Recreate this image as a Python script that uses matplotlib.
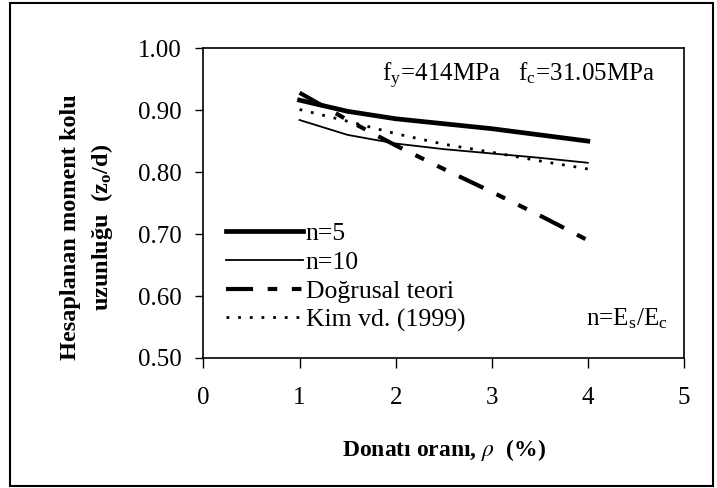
import matplotlib.pyplot as plt
from matplotlib.patches import Rectangle

plt.rcParams['font.family'] = ['Liberation Serif', 'DejaVu Serif']
plt.rcParams['mathtext.fontset'] = 'stix'

rho = [1.0, 1.5, 2.0, 2.5, 3.0, 3.5, 4.0]
n5 = [0.916, 0.898, 0.886, 0.878, 0.870, 0.860, 0.850]
n10 = [0.884, 0.860, 0.846, 0.837, 0.830, 0.823, 0.815]
dogrusal = [0.928, 0.884, 0.843, 0.805, 0.768, 0.730, 0.690]
kim = [0.901, 0.882, 0.862, 0.845, 0.832, 0.818, 0.805]

labels = ['n=5', 'n=10', 'Doğrusal teori', 'Kim vd. (1999)']
xticks = [0, 1, 2, 3, 4, 5]
yticks = [0.50, 0.60, 0.70, 0.80, 0.90, 1.00]

fig = plt.figure(figsize=(7.17, 4.88), dpi=100)
ax = fig.add_axes([0.2838, 0.2664, 0.670, 0.635])

ax.plot(rho, n5, color='black', lw=3.4, label=labels[0])
ax.plot(rho, n10, color='black', lw=1.3, label=labels[1])
ax.plot(rho, dogrusal, color='black', lw=3.0, linestyle=(0, (6.5, 3.5, 2.3, 3.5, 2.3, 3.5)),
        label=labels[2])
ax.plot(rho, kim, color='black', lw=2.0, linestyle=(0, (1, 3.2)), label=labels[3])

ax.set_xlim(0, 5)
ax.set_ylim(0.5, 1.0)
ax.set_xticks(xticks)
ax.set_yticks(yticks)
ax.set_yticklabels(['%.2f' % v for v in yticks])
ax.tick_params(axis='y', direction='out', length=6, width=1, labelsize=18, pad=10)
ax.tick_params(axis='x', direction='out', length=7, width=1, labelsize=18, pad=14)
for s in ax.spines.values():
    s.set_linewidth(1.2)

ax.set_xlabel(r'Donatı oranı, $\rho$  (%)', fontsize=17, fontweight='bold', labelpad=20)
fig.text(0.122, 0.535, 'Hesaplanan moment kolu\nuzunluğu  (z$_\\mathregular{o}$/d)',
         rotation=90, ha='center', va='center', fontsize=17.5, fontweight='bold',
         linespacing=1.4, multialignment='center')

ax.text(1.86, 0.956, 'f$_\\mathregular{y}$=414MPa   f$_\\mathregular{c}$=31.05MPa',
        ha='left', va='center', fontsize=18)
ax.text(4.83, 0.563, 'n=E$_\\mathregular{s}$/E$_\\mathregular{c}$', ha='right', va='center',
        fontsize=18)

ax.legend(loc='lower left', bbox_to_anchor=(0.047, 0.085), frameon=False, fontsize=18.5,
          handlelength=3.0, handletextpad=0.1, labelspacing=0.22, borderpad=0,
          borderaxespad=0)

fig.patches.append(Rectangle((0.014, 0.004), 0.98, 0.99, transform=fig.transFigure,
                             fill=False, edgecolor='black', lw=1.5))

fig.savefig('out.png', dpi=100)
